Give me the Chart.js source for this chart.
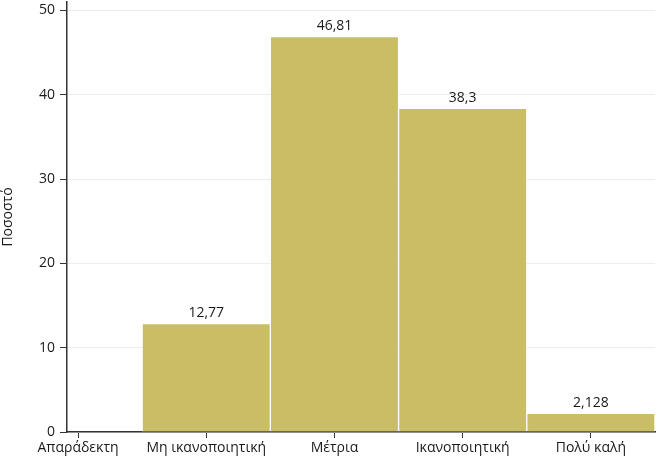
<!DOCTYPE html>
<html>
<head>
<meta charset="utf-8">
<script src="https://cdn.jsdelivr.net/npm/chart.js@4"></script>
<style>
  html, body { margin: 0; padding: 0; background: #fff; }
  #wrap { width: 667px; height: 462px; }
</style>
</head>
<body>
<div id="wrap"><canvas id="chart"></canvas></div>
<script>
// Categories and percentages
const categories = ['Απαράδεκτη', 'Μη ικανοποιητική', 'Μέτρια', 'Ικανοποιητική', 'Πολύ καλή'];
const percents = [0, 12.77, 46.81, 38.3, 2.128];
const valueLabels = ['', '12,77', '46,81', '38,3', '2,128'];
const yTicks = [0, 10, 20, 30, 40, 50];

const FONT = '"Open Sans", sans-serif';
const TEXT = '#1a1a1a';

// Draw the value above each bar
const barLabels = {
    id: 'barLabels',
    afterDatasetsDraw(chart) {
        const ctx = chart.ctx;
        const meta = chart.getDatasetMeta(0);
        ctx.save();
        ctx.font = '14px ' + FONT;
        ctx.fillStyle = TEXT;
        ctx.textAlign = 'center';
        ctx.textBaseline = 'bottom';
        meta.data.forEach((bar, i) => {
            if (valueLabels[i]) ctx.fillText(valueLabels[i], bar.x, bar.y - 4);
        });
        ctx.restore();
    }
};

const ctx = document.getElementById('chart').getContext('2d');
new Chart(ctx, {
    type: 'bar',
    data: {
        datasets: [{
            data: percents.map((v, i) => ({ x: i, y: v })),
            backgroundColor: 'rgb(201, 190, 102)',
            borderColor: 'rgba(255, 255, 255, 0.6)',
            borderWidth: { left: 1, right: 1, top: 0, bottom: 0 },
            barPercentage: 1,
            categoryPercentage: 1
        }]
    },
    options: {
        responsive: true,
        maintainAspectRatio: false,
        animation: false,
        layout: { padding: { top: 2, right: 12, left: 0, bottom: 0 } },
        plugins: {
            legend: { display: false },
            tooltip: { enabled: false }
        },
        scales: {
            x: {
                type: 'linear',
                offset: false,
                min: -0.086,
                max: 4.5,
                afterBuildTicks: scale => {
                    scale.ticks = categories.map((c, i) => ({ value: i }));
                },
                afterFit: scale => { scale.height = 30; },
                ticks: {
                    callback: (v) => categories[v],
                    font: { family: FONT, size: 14 },
                    color: TEXT,
                    padding: 2,
                    maxRotation: 0,
                    autoSkip: false
                },
                grid: {
                    offset: false,
                    drawOnChartArea: false,
                    drawTicks: true,
                    tickLength: 6,
                    tickColor: '#333'
                },
                border: { color: '#333', width: 1.5 }
            },
            y: {
                min: 0,
                max: 51,
                afterBuildTicks: scale => {
                    scale.ticks = yTicks.map(v => ({ value: v }));
                },
                afterFit: scale => {
                    scale.width = 67;
                    scale.paddingTop = 0;
                    scale.paddingBottom = 0;
                },
                ticks: {
                    font: { family: FONT, size: 14 },
                    color: TEXT,
                    padding: 5
                },
                grid: {
                    color: '#ededed',
                    tickColor: '#333',
                    tickLength: 7
                },
                border: { color: '#333', width: 1.5 },
                title: {
                    display: true,
                    text: 'Ποσοστό',
                    font: { family: FONT, size: 14 },
                    color: TEXT,
                    padding: { top: 0, bottom: 14 }
                }
            }
        }
    },
    plugins: [barLabels]
});
</script>
</body>
</html>
